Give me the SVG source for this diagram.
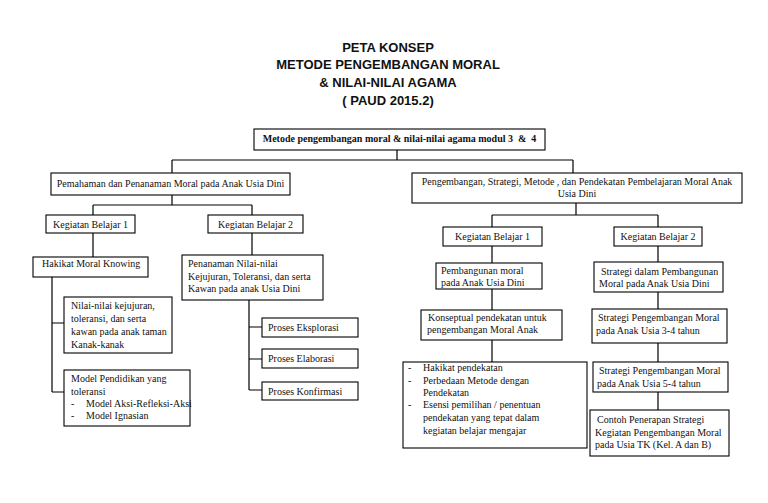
<svg xmlns="http://www.w3.org/2000/svg" width="768" height="503" viewBox="0 0 768 503">
<style>
.bg{fill:#fff}
.box{fill:#fff;stroke:#000;stroke-width:1.1}
.t{font-family:"Liberation Serif","Times New Roman",serif;font-size:10px;fill:#111}
.c{text-anchor:middle}
.b{font-weight:bold}
.title{font-family:"Liberation Sans",Arial,sans-serif;font-size:13px;font-weight:bold;text-anchor:middle;fill:#111}
.ln{fill:none;stroke:#000;stroke-width:1.2}
</style>
<rect class="bg" width="768" height="503"/>
<g id="title">
<text class="title" x="388" y="52">PETA KONSEP</text>
<text class="title" x="388" y="69">METODE PENGEMBANGAN MORAL</text>
<text class="title" x="388" y="87">&amp; NILAI-NILAI AGAMA</text>
<text class="title" x="388" y="105">( PAUD 2015.2)</text>
</g>
<g id="connectors">
<path class="ln" d="M397 150V160M172 160H573M172 160V173M573 160V173"/>
<path class="ln" d="M172 195V205M93 205H252M93 205V215M252 205V215"/>
<path class="ln" d="M93 233V257M52 277V392M52 323H64M52 392H64"/>
<path class="ln" d="M252 233V255M249 300V390M249 327H262M249 359H262M249 390H262"/>
<path class="ln" d="M576 203V215M492 215H658M492 215V227M658 215V227"/>
<path class="ln" d="M492 246V263M492 289V310M492 340V362"/>
<path class="ln" d="M658 246V262M658 292V309M658 343V362M658 392V410"/>
</g>
<g id="root">
<rect class="box" x="254" y="129" width="291" height="21"/>
<text class="t b c" x="399.5" y="141.5">Metode pengembangan moral &amp; nilai-nilai agama modul 3 &#160;&amp; &#160;4</text>
</g>
<g id="pemahaman">
<rect class="box" x="51" y="173" width="239" height="22"/>
<text class="t c" x="170.5" y="187">Pemahaman dan Penanaman Moral pada Anak Usia Dini</text>
</g>
<g id="kb1-left">
<rect class="box" x="46" y="215" width="89" height="18"/>
<text class="t c" x="90.5" y="227.5">Kegiatan Belajar 1</text>
</g>
<g id="kb2-left">
<rect class="box" x="208" y="215" width="95" height="18"/>
<text class="t c" x="255.5" y="227.5">Kegiatan Belajar 2</text>
</g>
<g id="hakikat">
<rect class="box" x="33" y="257" width="115" height="20"/>
<text class="t" x="42" y="266.5">Hakikat Moral Knowing</text>
</g>
<g id="nilai">
<rect class="box" x="64" y="297" width="108" height="56"/>
<text class="t" x="71" y="308.5">Nilai-nilai kejujuran,</text>
<text class="t" x="71" y="321.5">toleransi, dan serta</text>
<text class="t" x="71" y="334.5">kawan pada anak taman</text>
<text class="t" x="71" y="347.5">Kanak-kanak</text>
</g>
<g id="model">
<rect class="box" x="64" y="370" width="126" height="56"/>
<text class="t" x="71" y="381.5">Model Pendidikan yang</text>
<text class="t" x="71" y="394.5">toleransi</text>
<text class="t" x="71" y="407">-</text>
<text class="t" x="86" y="407">Model Aksi-Refleksi-Aksi</text>
<text class="t" x="71" y="419">-</text>
<text class="t" x="86" y="419">Model Ignasian</text>
</g>
<g id="penanaman">
<rect class="box" x="182" y="255" width="141" height="45"/>
<text class="t" x="188" y="266.5">Penanaman Nilai-nilai</text>
<text class="t" x="188" y="279.5">Kejujuran, Toleransi, dan serta</text>
<text class="t" x="188" y="292">Kawan pada anak Usia Dini</text>
</g>
<g id="eksplorasi">
<rect class="box" x="262" y="318" width="96" height="19"/>
<text class="t" x="268" y="331">Proses Eksplorasi</text>
</g>
<g id="elaborasi">
<rect class="box" x="262" y="349" width="96" height="19"/>
<text class="t" x="268" y="362">Proses Elaborasi</text>
</g>
<g id="konfirmasi">
<rect class="box" x="262" y="382" width="96" height="18"/>
<text class="t" x="268" y="394.5">Proses Konfirmasi</text>
</g>
<g id="pengembangan">
<rect class="box" x="412" y="173" width="330" height="30"/>
<text class="t c" x="577" y="184.5">Pengembangan, Strategi, Metode , dan Pendekatan Pembelajaran Moral Anak</text>
<text class="t c" x="577" y="197">Usia Dini</text>
</g>
<g id="kb1-right">
<rect class="box" x="443" y="227" width="99" height="19"/>
<text class="t c" x="492.5" y="240">Kegiatan Belajar 1</text>
</g>
<g id="kb2-right">
<rect class="box" x="614" y="227" width="88" height="19"/>
<text class="t c" x="658" y="240">Kegiatan Belajar 2</text>
</g>
<g id="pembangunan">
<rect class="box" x="436" y="263" width="106" height="26"/>
<text class="t" x="441" y="273.5">Pembangunan moral</text>
<text class="t" x="441" y="286">pada Anak Usia Dini</text>
</g>
<g id="konseptual">
<rect class="box" x="421" y="310" width="141" height="30"/>
<text class="t" x="428" y="320.5">Konseptual pendekatan untuk</text>
<text class="t" x="427" y="333">pengembangan Moral Anak</text>
</g>
<g id="pendekatan">
<rect class="box" x="403" y="362" width="184" height="86"/>
<text class="t" x="408" y="370.5">-</text>
<text class="t" x="423" y="370.5">Hakikat pendekatan</text>
<text class="t" x="408" y="384">-</text>
<text class="t" x="423" y="384">Perbedaan Metode dengan</text>
<text class="t" x="423" y="396">Pendekatan</text>
<text class="t" x="408" y="408">-</text>
<text class="t" x="423" y="408">Esensi pemilihan / penentuan</text>
<text class="t" x="423" y="421">pendekatan yang tepat dalam</text>
<text class="t" x="423" y="434">kegiatan belajar mengajar</text>
</g>
<g id="strategi-pembangunan">
<rect class="box" x="594" y="262" width="129" height="30"/>
<text class="t" x="601" y="274.5">Strategi dalam Pembangunan</text>
<text class="t" x="599" y="287">Moral pada Anak Usia Dini</text>
</g>
<g id="strategi-3-4">
<rect class="box" x="592" y="309" width="135" height="34"/>
<text class="t" x="598" y="321">Strategi Pengembangan Moral</text>
<text class="t" x="596" y="334">pada Anak Usia 3-4 tahun</text>
</g>
<g id="strategi-5-4">
<rect class="box" x="593" y="362" width="135" height="30"/>
<text class="t" x="599" y="374">Strategi Pengembangan Moral</text>
<text class="t" x="597" y="387">pada Anak Usia 5-4 tahun</text>
</g>
<g id="contoh">
<rect class="box" x="590" y="410" width="139" height="46"/>
<text class="t" x="597" y="422.5">Contoh Penerapan Strategi</text>
<text class="t" x="595" y="435.5">Kegiatan Pengembangan Moral</text>
<text class="t" x="595" y="448">pada Usia TK (Kel. A dan B)</text>
</g>
</svg>
